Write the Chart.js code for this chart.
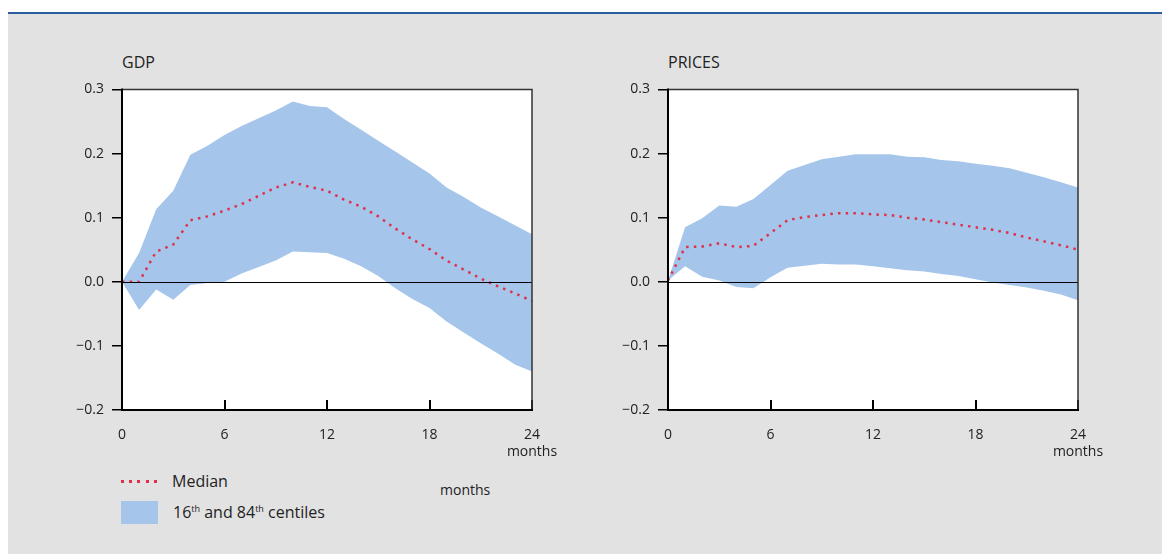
<!DOCTYPE html>
<html>
<head>
<meta charset="utf-8">
<script src="https://cdn.jsdelivr.net/npm/chart.js@4.4.1/dist/chart.umd.min.js"></script>
<style>
  html, body { margin: 0; padding: 0; background: #fff; }
  body { width: 1162px; height: 554px; position: relative; overflow: hidden; font-family: "Open Sans", sans-serif; color: #222; }
  #panel { position: absolute; left: 8px; top: 12px; right: 0; bottom: 0; background: #e2e2e2; border-top: 2px solid #2a5c9f; }
  .title { position: absolute; font-size: 16px; line-height: 1; }
  .wrap { position: absolute; }
  .leg { position: absolute; font-size: 16px; line-height: 1; white-space: nowrap; }
  .leg sup { font-size: 9px; vertical-align: 6px; line-height: 0; }
  #dots { position: absolute; left: 121px; top: 480px; width: 38px; height: 3px;
    background: repeating-linear-gradient(to right, #e0304c 0 3px, transparent 3px 8.2px); }
  #box { position: absolute; left: 121px; top: 501px; width: 37px; height: 23px; background: #a5c6ea; }
</style>
</head>
<body>
<div id="panel"></div>
<div class="title" style="left:122px; top:54px;">GDP</div>
<div class="title" style="left:668px; top:54px;">PRICES</div>
<div class="wrap" style="left:60px; top:73px; width:520px; height:387px;"><canvas id="gdpChart" width="520" height="387"></canvas></div>
<div class="wrap" style="left:606px; top:73px; width:520px; height:387px;"><canvas id="pricesChart" width="520" height="387"></canvas></div>
<div id="dots"></div>
<div class="leg" style="left:172px; top:473px;">Median</div>
<div id="box"></div>
<div class="leg" style="left:173px; top:504px;">16<sup>th</sup> and 84<sup>th</sup> centiles</div>
<div class="leg" style="left:440px; top:483px; font-size:14px;">months</div>
<script>
const months = [0, 1, 2, 3, 4, 5, 6, 7, 8, 9, 10, 11, 12, 13, 14, 15, 16, 17, 18, 19, 20, 21, 22, 23, 24];
const yTicks = [-0.2, -0.1, 0.0, 0.1, 0.2, 0.3];

const gdpUpper = [0.000, 0.045, 0.113, 0.142, 0.198, 0.212, 0.229, 0.243, 0.255, 0.267, 0.281, 0.274, 0.272,
  0.254, 0.237, 0.220, 0.203, 0.186, 0.169, 0.147, 0.132, 0.116, 0.102, 0.088, 0.074];
const gdpLower = [0.000, -0.044, -0.012, -0.028, -0.005, -0.002, 0.000, 0.013, 0.023, 0.033, 0.047, 0.046, 0.045,
  0.036, 0.024, 0.009, -0.010, -0.027, -0.041, -0.062, -0.079, -0.096, -0.112, -0.129, -0.140];
const gdpMedian = [0.000, 0.000, 0.047, 0.058, 0.096, 0.102, 0.111, 0.121, 0.134, 0.147, 0.155, 0.148, 0.142,
  0.128, 0.117, 0.102, 0.083, 0.066, 0.051, 0.033, 0.019, 0.005, -0.007, -0.018, -0.030];

const pricesUpper = [0.002, 0.085, 0.099, 0.119, 0.117, 0.129, 0.151, 0.173, 0.182, 0.191, 0.195, 0.199, 0.199,
  0.199, 0.195, 0.194, 0.190, 0.188, 0.184, 0.181, 0.177, 0.170, 0.163, 0.155, 0.147];
const pricesLower = [0.002, 0.024, 0.008, 0.002, -0.008, -0.010, 0.007, 0.022, 0.025, 0.028, 0.027, 0.027, 0.024,
  0.021, 0.018, 0.016, 0.012, 0.009, 0.004, -0.001, -0.005, -0.009, -0.014, -0.020, -0.029];
const pricesMedian = [0.002, 0.054, 0.055, 0.060, 0.054, 0.056, 0.076, 0.096, 0.101, 0.104, 0.107, 0.107, 0.105,
  0.104, 0.100, 0.097, 0.093, 0.089, 0.085, 0.081, 0.076, 0.069, 0.063, 0.057, 0.050];

const bandColor = '#a5c6ea';
const medianColor = '#e0304c';
const fontFamily = '"Open Sans", sans-serif';

function pts(values) {
  return values.map((v, i) => ({x: months[i], y: v}));
}

// white plot area, zero line, frame and the small "months" label
const framePlugin = {
  id: 'frame',
  beforeDraw(chart) {
    const a = chart.chartArea, ctx = chart.ctx;
    ctx.save();
    ctx.fillStyle = '#fff';
    ctx.fillRect(a.left, a.top, a.right - a.left, a.bottom - a.top);
    ctx.restore();
  },
  afterDatasetsDraw(chart) {
    const a = chart.chartArea, ctx = chart.ctx;
    const y0 = Math.round(chart.scales.y.getPixelForValue(0)) + 0.5;
    ctx.save();
    ctx.strokeStyle = '#000';
    ctx.lineWidth = 1;
    ctx.beginPath();
    ctx.moveTo(a.left, y0);
    ctx.lineTo(a.right, y0);
    ctx.stroke();
    ctx.strokeStyle = '#333';
    ctx.lineWidth = 1.5;
    ctx.beginPath();
    ctx.moveTo(a.left, a.top);
    ctx.lineTo(a.right, a.top);
    ctx.lineTo(a.right, a.bottom);
    ctx.stroke();
    ctx.strokeStyle = '#000';
    ctx.lineWidth = 2;
    ctx.beginPath();
    ctx.moveTo(a.left, a.top - 1);
    ctx.lineTo(a.left, a.bottom);
    ctx.lineTo(a.right + 1, a.bottom);
    ctx.stroke();
    ctx.fillStyle = '#222';
    ctx.font = '14px ' + fontFamily;
    ctx.textAlign = 'center';
    ctx.textBaseline = 'middle';
    ctx.fillText('months', chart.scales.x.getPixelForValue(24), a.bottom + 42);
    ctx.restore();
  }
};

function makeChart(id, upper, lower, median) {
  const ctx = document.getElementById(id).getContext('2d');
  return new Chart(ctx, {
    type: 'line',
    data: {
      datasets: [{
        label: 'Median',
        data: pts(median),
        borderColor: medianColor,
        borderWidth: 2.5,
        borderDash: [2.5, 5.2],
        borderCapStyle: 'butt',
        pointRadius: 0,
        fill: false,
      }, {
        label: '84th',
        data: pts(upper),
        borderWidth: 0,
        pointRadius: 0,
        backgroundColor: bandColor,
        fill: '+1',
      }, {
        label: '16th',
        data: pts(lower),
        borderWidth: 0,
        pointRadius: 0,
        fill: false,
      }]
    },
    options: {
      responsive: false,
      animation: false,
      events: [],
      layout: { padding: { top: 9, right: 48, bottom: 0, left: 0 } },
      plugins: { legend: { display: false }, tooltip: { enabled: false } },
      scales: {
        x: {
          type: 'linear',
          min: 0,
          max: 24,
          afterBuildTicks(scale) {
            scale.ticks = [0, 6, 12, 18, 24].map(v => ({value: v}));
          },
          afterFit(scale) { scale.height = 50; },
          border: { display: false },
          grid: { drawOnChartArea: false, drawTicks: true, tickLength: -10, tickColor: '#000', lineWidth: 2 },
          ticks: { color: '#222', padding: 27, font: { family: fontFamily, size: 14 }, maxRotation: 0 }
        },
        y: {
          min: -0.2,
          max: 0.3,
          afterBuildTicks(scale) {
            scale.ticks = yTicks.map(v => ({value: v}));
          },
          afterFit(scale) { scale.width = 62; },
          border: { display: false },
          grid: { drawOnChartArea: false, drawTicks: true, tickLength: 10, tickColor: '#000', lineWidth: 1.5 },
          ticks: {
            color: '#222',
            padding: 8,
            font: { family: fontFamily, size: 14 },
            callback: v => (v < 0 ? '\u2212' : '') + Math.abs(v).toFixed(1)
          }
        }
      }
    },
    plugins: [framePlugin]
  });
}

makeChart('gdpChart', gdpUpper, gdpLower, gdpMedian);
makeChart('pricesChart', pricesUpper, pricesLower, pricesMedian);
</script>
</body>
</html>
